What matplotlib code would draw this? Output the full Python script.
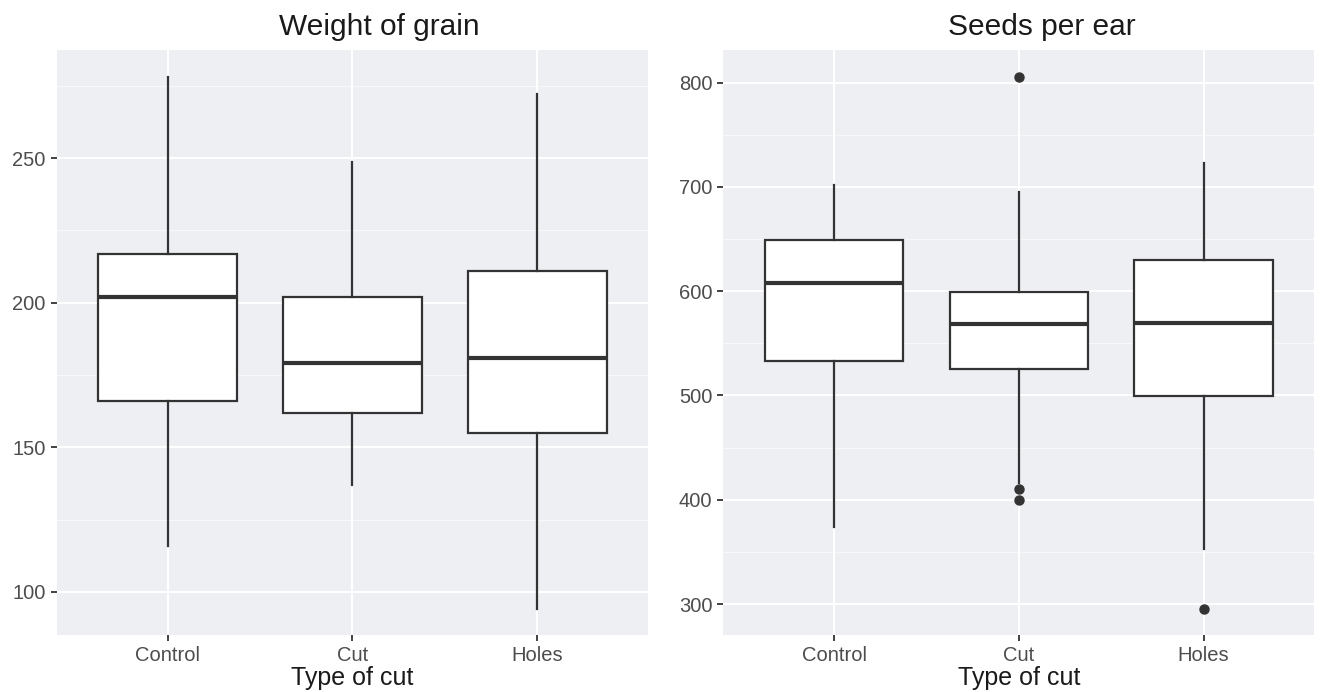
import matplotlib.pyplot as plt
from matplotlib.ticker import MultipleLocator

plt.rcParams['font.family'] = ['Liberation Sans', 'DejaVu Sans']

groups = ['Control', 'Cut', 'Holes']

# Weight of grain
w_whislo = [116, 137, 94]
w_q1 = [166, 162, 155]
w_med = [202, 179, 181]
w_q3 = [217, 202, 211]
w_whishi = [278, 248.5, 272]
w_fliers = [[], [], []]

# Seeds per ear
s_whislo = [374, 416, 353]
s_q1 = [533.5, 525.5, 499.5]
s_med = [608, 568.5, 569]
s_q3 = [649.5, 599, 629.5]
s_whishi = [702, 695, 723]
s_fliers = [[], [805, 410.5, 399.5], [295]]

bg = '#edeff2'
ink = '#333333'


def make_stats(lo, q1, med, q3, hi, fl):
    stats = []
    for i in range(len(groups)):
        stats.append({'whislo': lo[i], 'q1': q1[i], 'med': med[i], 'q3': q3[i],
                      'whishi': hi[i], 'fliers': fl[i], 'label': groups[i]})
    return stats


def draw_panel(ax, stats, title, title_x, ylim, major, minor):
    ax.set_facecolor(bg)
    for s in ax.spines.values():
        s.set_visible(False)
    ax.yaxis.set_major_locator(MultipleLocator(major))
    ax.yaxis.set_minor_locator(MultipleLocator(minor))
    ax.grid(which='major', color='white', linewidth=1.5)
    ax.grid(which='minor', axis='y', color='white', linewidth=0.7, alpha=0.6)
    ax.set_axisbelow(True)
    ax.bxp(stats, positions=[1, 2, 3], widths=0.75, patch_artist=True,
           showcaps=False,
           boxprops=dict(facecolor='white', edgecolor=ink, linewidth=1.6),
           whiskerprops=dict(color=ink, linewidth=1.6),
           medianprops=dict(color=ink, linewidth=3),
           flierprops=dict(marker='o', markerfacecolor=ink, markeredgecolor=ink,
                           markersize=6.5))
    ax.set_xlim(0.4, 3.6)
    ax.set_ylim(*ylim)
    ax.set_xticks([1, 2, 3])
    ax.set_xticklabels(groups)
    ax.tick_params(which='major', length=4, width=1.3, color=ink,
                   labelsize=14.5, labelcolor='#4d4d4d', pad=4)
    ax.tick_params(which='minor', length=0)
    ax.set_title(title, fontsize=21.5, color='#1a1a1a', pad=11, x=title_x)
    ax.set_xlabel('Type of cut', fontsize=18, color='#1a1a1a', labelpad=1)


fig = plt.figure(figsize=(13.23, 6.92), dpi=100)
ax1 = fig.add_axes([0.0429, 0.0824, 0.447, 0.8454])
ax2 = fig.add_axes([0.5468, 0.0824, 0.4467, 0.8454])

draw_panel(ax1, make_stats(w_whislo, w_q1, w_med, w_q3, w_whishi, w_fliers),
           'Weight of grain', 0.546, (85.1, 287.4), 50, 25)
draw_panel(ax2, make_stats(s_whislo, s_q1, s_med, s_q3, s_whishi, s_fliers),
           'Seeds per ear', 0.538, (270.3, 831.3), 100, 50)

fig.savefig('out.png', dpi=100)
